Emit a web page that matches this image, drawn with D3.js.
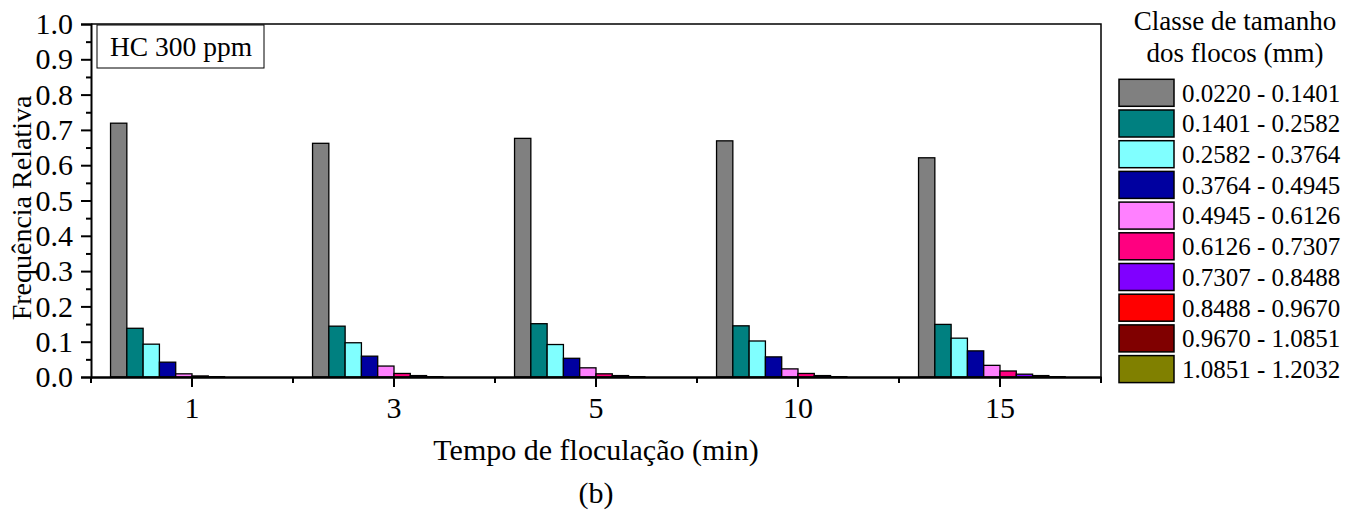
<!DOCTYPE html>
<html><head><meta charset="utf-8">
<script src="https://cdn.jsdelivr.net/npm/d3@7"></script>
</head><body style="margin:0;background:#fff"><svg id="c" width="1357" height="511"></svg>
<script>
const categories = ["1","3","5","10","15"];
const sizeClasses = ["0.0220 - 0.1401","0.1401 - 0.2582","0.2582 - 0.3764","0.3764 - 0.4945","0.4945 - 0.6126","0.6126 - 0.7307","0.7307 - 0.8488","0.8488 - 0.9670","0.9670 - 1.0851","1.0851 - 1.2032"];
const classColors = ["#808080","#008080","#80FFFF","#0000A0","#FF80FF","#FF0080","#8000FF","#FF0000","#800000","#808000"];
const t1  = [0.719,0.138,0.093,0.042,0.009,0.003,0.001,0.000,0.000,0.000];
const t3  = [0.662,0.144,0.097,0.059,0.031,0.010,0.004,0.001,0.000,0.000];
const t5  = [0.676,0.151,0.092,0.053,0.026,0.009,0.004,0.001,0.000,0.000];
const t10 = [0.669,0.145,0.102,0.057,0.023,0.010,0.004,0.001,0.000,0.000];
const t15 = [0.621,0.149,0.110,0.074,0.033,0.017,0.008,0.004,0.001,0.000];
const seriesByTime = [t1,t3,t5,t10,t15];
const yTicks = [0,0.1,0.2,0.3,0.4,0.5,0.6,0.7,0.8,0.9,1.0];

const FONT = '"Liberation Serif"';
const svg = d3.select("#c");
const L=91,R=1101,T=24,B=377;
const x0 = d3.scaleBand().domain(categories).range([L,R]).paddingInner(0).paddingOuter(0);
const x1 = d3.scaleBand().domain(d3.range(sizeClasses.length)).range([0,x0.bandwidth()]).paddingInner(0).paddingOuter(1.2);
const y = d3.scaleLinear().domain([0,1]).range([B,T]);

// bars
const g = svg.append("g");
categories.forEach((c,i)=>{
  g.selectAll(null).data(seriesByTime[i]).join("rect")
    .attr("x",(d,j)=>x0(c)+x1(j)).attr("width",x1.bandwidth())
    .attr("y",d=>y(d)).attr("height",d=>B-y(d))
    .attr("fill",(d,j)=>classColors[j]).attr("stroke","#000").attr("stroke-width",1.3);
});

// frame
svg.append("path").attr("d",`M${L},${T}H${R}V${B}`).attr("fill","none").attr("stroke","#000").attr("stroke-width",1.5);

// y axis
const ya = svg.append("g").attr("transform",`translate(${L},0)`)
  .call(d3.axisLeft(y).tickValues(yTicks).tickFormat(d3.format(".1f")).tickSize(10).tickPadding(8));
ya.select(".domain").attr("stroke-width",2);
ya.selectAll(".tick line").attr("stroke-width",2);
ya.selectAll("text").style("font-family",FONT).attr("font-size",30).attr("fill","#000");
svg.append("g").attr("transform",`translate(${L},0)`)
  .call(d3.axisLeft(y).tickValues(d3.range(0.05,1,0.1)).tickFormat("").tickSize(5))
  .call(s=>{s.select(".domain").remove();s.selectAll("line").attr("stroke-width",2);});

// x axis
const xa = svg.append("g").attr("transform",`translate(0,${B})`)
  .call(d3.axisBottom(x0).tickSize(10).tickPadding(10).tickSizeOuter(0));
xa.select(".domain").attr("stroke-width",2.5);
xa.selectAll(".tick line").attr("stroke-width",2);
xa.selectAll("text").style("font-family",FONT).attr("font-size",30).attr("fill","#000");
const bounds = categories.map(c=>x0(c)).concat([R]);
svg.append("g").selectAll("line").data(bounds).join("line")
  .attr("x1",d=>d).attr("x2",d=>d).attr("y1",B).attr("y2",B+6).attr("stroke","#000").attr("stroke-width",2);

// titles
const txt = (x,yy,s,size,anchor)=>svg.append("text").attr("x",x).attr("y",yy).attr("text-anchor",anchor||"start")
  .style("font-family",FONT).attr("font-size",size).attr("fill","#000").text(s);
txt((L+R)/2,460,"Tempo de floculação (min)",30,"middle");
txt((L+R)/2,503,"(b)",30,"middle");
svg.append("text").attr("transform",`translate(31,208) rotate(-90)`).attr("text-anchor","middle")
  .style("font-family",FONT).attr("font-size",28).attr("fill","#000").text("Frequência Relativa");

// annotation box
svg.append("rect").attr("x",97).attr("y",25).attr("width",167).attr("height",43).attr("fill","#fff").attr("stroke","#000").attr("stroke-width",1);
txt(110,56,"HC 300 ppm",27.5);

// legend
txt(1235,30,"Classe de tamanho",27,"middle");
txt(1235,62,"dos flocos (mm)",27,"middle");
const lg = svg.append("g").selectAll("g").data(sizeClasses).join("g")
  .attr("transform",(d,i)=>`translate(1119,${79.3+i*30.7})`);
lg.append("rect").attr("width",55).attr("height",27).attr("fill",(d,i)=>classColors[i]).attr("stroke","#000").attr("stroke-width",1.5);
lg.append("text").attr("x",63).attr("y",22.4).style("font-family",FONT).attr("font-size",25).attr("fill","#000").text(d=>d);
</script></body></html>
